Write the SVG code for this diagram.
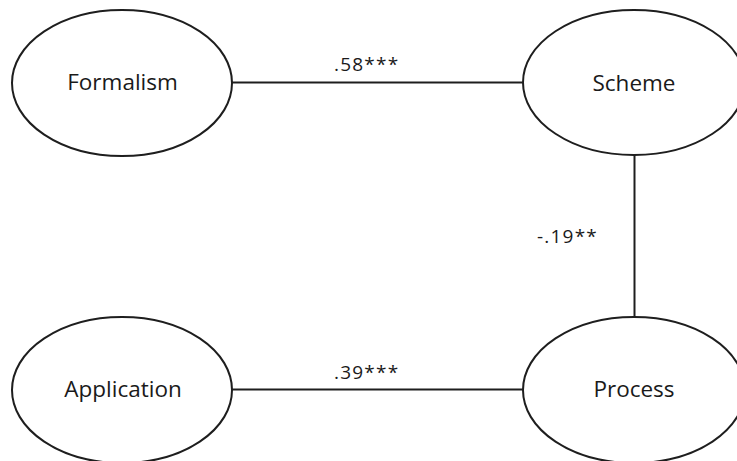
<svg xmlns="http://www.w3.org/2000/svg" width="737" height="461" viewBox="0 0 737 461">
<style>
.node{fill:#fff;stroke:#1e1e1e;stroke-width:2}
.lbl{font-family:"Open Sans","Liberation Sans",sans-serif;font-size:22.5px;fill:#1a1a1a;text-anchor:middle}
.edge{stroke:#1e1e1e;stroke-width:2;fill:none}
.elbl{font-family:"Open Sans","Liberation Sans",sans-serif;font-size:19px;fill:#1a1a1a;letter-spacing:1.2px}
</style>
<rect width="737" height="461" fill="#fff"/>
<g id="connectors">
<line class="edge" x1="232" y1="82.5" x2="523" y2="82.5"/>
<line class="edge" x1="634.5" y1="155" x2="634.5" y2="317"/>
<line class="edge" x1="232" y1="389.5" x2="523" y2="389.5"/>
<text class="elbl" x="334" y="71">.58***</text>
<text class="elbl" x="334" y="379">.39***</text>
<text class="elbl" x="598" y="243" text-anchor="end">-.19**</text>
</g>
<g id="formalism">
<ellipse class="node" cx="122" cy="83" rx="110" ry="73"/>
<text class="lbl" x="122.5" y="90">Formalism</text>
</g>
<g id="scheme">
<ellipse class="node" cx="634" cy="82.5" rx="111" ry="72.5"/>
<text class="lbl" x="634" y="90.5">Scheme</text>
</g>
<g id="application">
<ellipse class="node" cx="122" cy="390" rx="110" ry="73"/>
<text class="lbl" x="123" y="397">Application</text>
</g>
<g id="process">
<ellipse class="node" cx="634" cy="390" rx="111" ry="73"/>
<text class="lbl" x="634" y="397">Process</text>
</g>
</svg>
